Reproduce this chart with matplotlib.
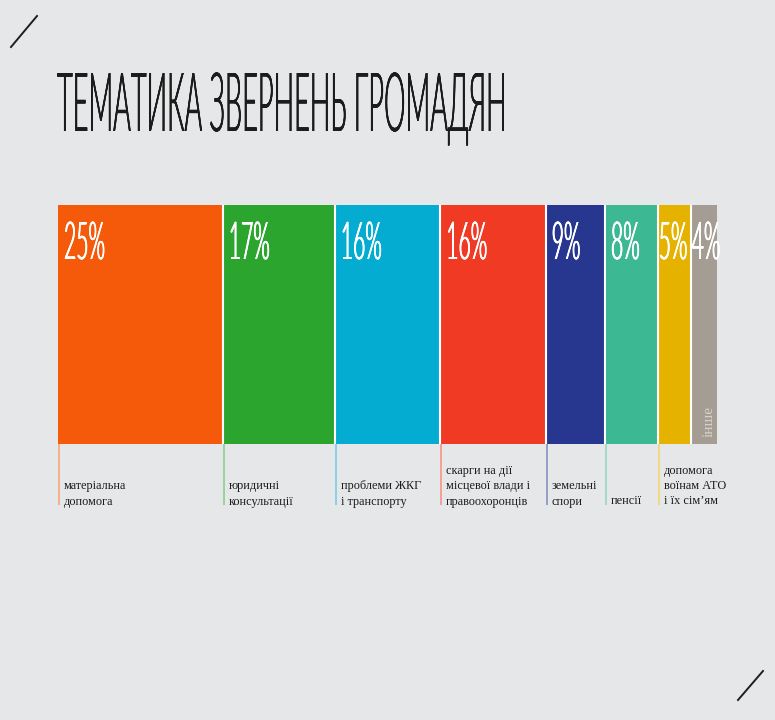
import matplotlib
matplotlib.use('Agg')
import matplotlib.pyplot as plt
import numpy as np
from matplotlib import patheffects
from matplotlib.transforms import Affine2D
from matplotlib.lines import Line2D
from matplotlib.colors import to_rgb
from matplotlib.textpath import TextPath
from matplotlib.font_manager import FontProperties

# ---------------- data ----------------
title = 'ТЕМАТИКА ЗВЕРНЕНЬ ГРОМАДЯН'
categories = ['матеріальна\nдопомога',
              'юридичні\nконсультації',
              'проблеми ЖКГ\nі транспорту',
              'скарги на дії\nмісцевої влади і\nправоохоронців',
              'земельні\nспори',
              'пенсії',
              'допомога\nвоїнам АТО\nі їх сім’ям',
              'інше']
values = [25, 17, 16, 16, 9, 8, 5, 4]
colors = ['#f45a0a', '#2ca52e', '#03acd0', '#f13a24',
          '#27368f', '#3cb893', '#e5b200', '#a59d93']

# ---------------- style ----------------
W, H = 775, 720
BG = '#e6e7e9'
PX = 72.0 / 100.0  # points per pixel at dpi=100
TITLE_FONT = dict(family=['Lato', 'DejaVu Sans'], weight=300)
PCT_FONT = dict(family=['Lato', 'DejaVu Sans'], weight=300)


class Tall(patheffects.AbstractPathEffect):
    """Stretch glyphs vertically about the baseline (emulates a condensed
    display face) and thicken vertical stems slightly."""
    def __init__(self, sy=1.0, smear_px=0.0):
        super().__init__()
        self.sy = sy
        self.smear = smear_px

    def draw_path(self, renderer, gc, tpath, affine, rgbFace=None):
        base = Affine2D().scale(1.0, self.sy) + affine
        offs = np.linspace(-self.smear, self.smear, 5) if self.smear > 0 else [0.0]
        for dx in offs:
            renderer.draw_path(gc, tpath, base + Affine2D().translate(dx, 0),
                               rgbFace)


def cap_ratio(fontdict):
    fp = FontProperties(family=fontdict['family'], weight=fontdict['weight'])
    tp = TextPath((0, 0), 'Н', size=100, prop=fp)
    return tp.get_extents().y1 / 100.0


def lighten(c, f):
    r = np.array(to_rgb(c))
    return tuple(r + (1 - r) * f)


fig = plt.figure(figsize=(W / 100, H / 100), dpi=100, facecolor=BG)

# corner decorations
fig.add_artist(Line2D([11 / W, 37 / W], [1 - 47 / H, 1 - 16 / H],
                      transform=fig.transFigure, color='#1e1e1e', lw=1.4))
fig.add_artist(Line2D([738 / W, 763 / W], [1 - 700 / H, 1 - 671 / H],
                      transform=fig.transFigure, color='#1e1e1e', lw=1.4))

# title
t_title = fig.text(57 / W, 1 - 131 / H, title, ha='left', va='baseline',
                   fontsize=20, color='#1c1c1c', **TITLE_FONT)

# bars
ax = fig.add_axes([58 / W, (H - 444) / H, 659 / W, 239 / H])
total = sum(values)
ax.set_xlim(0, total)
ax.set_ylim(0, 1)
ax.axis('off')

vals = np.array(values, dtype=float)
lefts = np.concatenate([[0.0], np.cumsum(vals)[:-1]])
ax.bar(lefts, np.ones_like(vals), width=vals, align='edge', color=colors,
       linewidth=0)
ax.vlines(lefts[1:], 0, 1, colors='white', lw=1.5)

px_per_unit = 659 / total
unit = 1.0 / px_per_unit
line_drop = 61 / 239.0

# leader lines (not for the last category, which is labelled inside)
ax.vlines(lefts[:-1] + unit * 1.0, -line_drop, 0,
          colors=[lighten(c, 0.45) for c in colors[:-1]], lw=1.2, clip_on=False)

# percent labels
pct_texts = []
for left, v in zip(lefts, values):
    wpx = v * px_per_unit
    off = 6 if wpx > 45 else 1
    t = ax.annotate(f'{v}%', xy=(left, 1), xytext=(off * PX, -54 * PX),
                    textcoords='offset points', ha='left', va='baseline',
                    fontsize=15, color='white', annotation_clip=False,
                    **PCT_FONT)
    pct_texts.append(t)

# category labels below
label_font = dict(family=['Liberation Serif', 'DejaVu Serif'], fontsize=8.8,
                  color='#1c1c1c', linespacing=1.37)
for left, lab in zip(lefts[:-1], categories[:-1]):
    ax.annotate(lab, xy=(left, 0), xytext=(6 * PX, -63.5 * PX),
                textcoords='offset points', ha='left', va='bottom',
                annotation_clip=False, **label_font)

# "other" inside the last bar
ax.annotate(categories[-1], xy=(lefts[-1] + values[-1] / 2, 0),
            xytext=(5 * PX, 7 * PX), textcoords='offset points',
            ha='center', va='bottom', rotation=90,
            family=['Liberation Serif', 'DejaVu Serif'], fontsize=11,
            color='#d6d1ca', annotation_clip=False)

# size the display texts: natural width = target width, then stretch up
fig.canvas.draw()
r = fig.canvas.get_renderer()
w_title = t_title.get_window_extent(r).width
fs_title = t_title.get_fontsize() * 448 / w_title
t_title.set_fontsize(fs_title)
sy_title = 58 / (cap_ratio(TITLE_FONT) * fs_title / PX)
t_title.set_path_effects([Tall(sy_title, 0.25)])

w_pct = pct_texts[0].get_window_extent(r).width
fs_pct = pct_texts[0].get_fontsize() * 41 / w_pct
sy_pct = 37 / (cap_ratio(PCT_FONT) * fs_pct / PX)
for t in pct_texts:
    t.set_fontsize(fs_pct)
    t.set_path_effects([Tall(sy_pct, 0.45)])

fig.savefig('out.png', dpi=100, facecolor=BG)
